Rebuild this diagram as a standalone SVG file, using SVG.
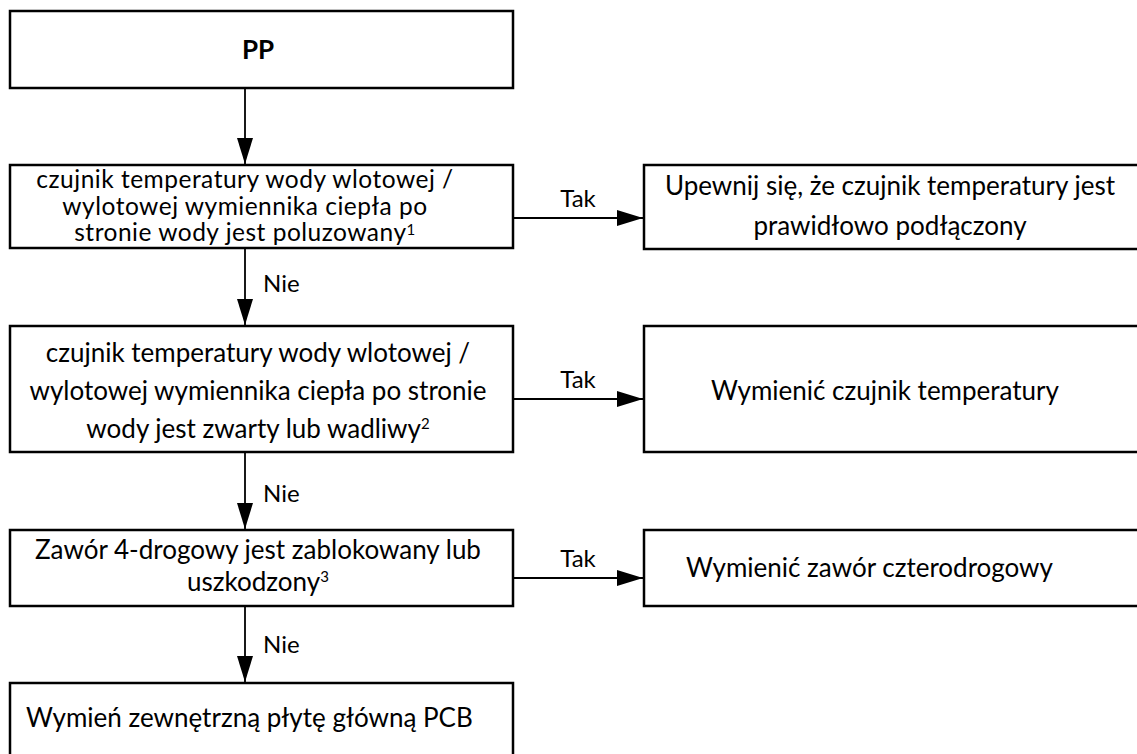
<svg xmlns="http://www.w3.org/2000/svg" width="1137" height="754" viewBox="0 0 1137 754">
  <style>
    .box { fill: #ffffff; stroke: #000000; stroke-width: 2.5; }
    .txt { font-family: Lato, "Liberation Sans", sans-serif; font-size: 26px; fill: #000000; text-anchor: middle; }
    .tight { font-size: 24.5px; letter-spacing: 0.5px; }
    .start { text-anchor: start; }
    .lbl { font-family: Lato, "Liberation Sans", sans-serif; font-size: 24px; fill: #000000; }
    .mid { text-anchor: middle; }
    .sup { font-size: 15px; }
    .edge { stroke: #000000; stroke-width: 1.8; fill: none; marker-end: url(#arrow); }
  </style>
  <defs>
    <marker id="arrow" markerWidth="26" markerHeight="16" refX="26" refY="8" orient="auto" markerUnits="userSpaceOnUse">
      <path d="M0,0 L26,8 L0,16 Z" fill="#000000"/>
    </marker>
  </defs>
  <rect width="1137" height="754" fill="#ffffff"/>

  <!-- flow arrows and their Tak / Nie labels -->
  <g id="connectors">
    <line class="edge" x1="245" y1="88" x2="245" y2="164"/>
    <line class="edge" x1="513" y1="218" x2="643" y2="218"/>
    <text class="lbl mid" x="578" y="207">Tak</text>
    <line class="edge" x1="245" y1="248" x2="245" y2="325"/>
    <text class="lbl" x="263" y="292">Nie</text>
    <line class="edge" x1="513" y1="399" x2="643" y2="399"/>
    <text class="lbl mid" x="578" y="388">Tak</text>
    <line class="edge" x1="245" y1="452" x2="245" y2="529"/>
    <text class="lbl" x="263" y="502">Nie</text>
    <line class="edge" x1="513" y1="578" x2="643" y2="578"/>
    <text class="lbl mid" x="578" y="567">Tak</text>
    <line class="edge" x1="245" y1="606" x2="245" y2="682"/>
    <text class="lbl" x="263" y="653">Nie</text>
  </g>

  <g id="node-pp">
    <rect class="box" x="10" y="11" width="503" height="77"/>
    <text class="txt" x="258" y="59" font-weight="bold">PP</text>
  </g>

  <g id="node-loose">
    <rect class="box" x="10" y="165" width="503" height="83"/>
    <text class="txt tight" x="245" y="188">czujnik temperatury wody wlotowej /</text>
    <text class="txt tight" x="245" y="214.5">wylotowej wymiennika ciepła po</text>
    <text class="txt tight" x="245" y="241">stronie wody jest poluzowany<tspan class="sup" font-size="14px" dy="-6">1</tspan></text>
  </g>

  <g id="node-reconnect">
    <rect class="box" x="644" y="165" width="500" height="84"/>
    <text class="txt" x="890" y="195">Upewnij się, że czujnik temperatury jest</text>
    <text class="txt" x="890" y="235">prawidłowo podłączony</text>
  </g>

  <g id="node-faulty">
    <rect class="box" x="10" y="326" width="503" height="126"/>
    <text class="txt" x="258" y="362">czujnik temperatury wody wlotowej /</text>
    <text class="txt" x="258" y="400">wylotowej wymiennika ciepła po stronie</text>
    <text class="txt" x="258" y="438">wody jest zwarty lub wadliwy<tspan class="sup" dy="-9">2</tspan></text>
  </g>

  <g id="node-replace-sensor">
    <rect class="box" x="644" y="326" width="500" height="126"/>
    <text class="txt" x="885" y="400">Wymienić czujnik temperatury</text>
  </g>

  <g id="node-valve">
    <rect class="box" x="10" y="530" width="503" height="76"/>
    <text class="txt" x="258" y="559">Zawór 4-drogowy jest zablokowany lub</text>
    <text class="txt" x="258" y="591">uszkodzony<tspan class="sup" dy="-9">3</tspan></text>
  </g>

  <g id="node-replace-valve">
    <rect class="box" x="644" y="530" width="500" height="76"/>
    <text class="txt start" x="686" y="577">Wymienić zawór czterodrogowy</text>
  </g>

  <g id="node-pcb">
    <rect class="box" x="10" y="683" width="503" height="80"/>
    <text class="txt start" x="26" y="727">Wymień zewnętrzną płytę główną PCB</text>
  </g>
</svg>
